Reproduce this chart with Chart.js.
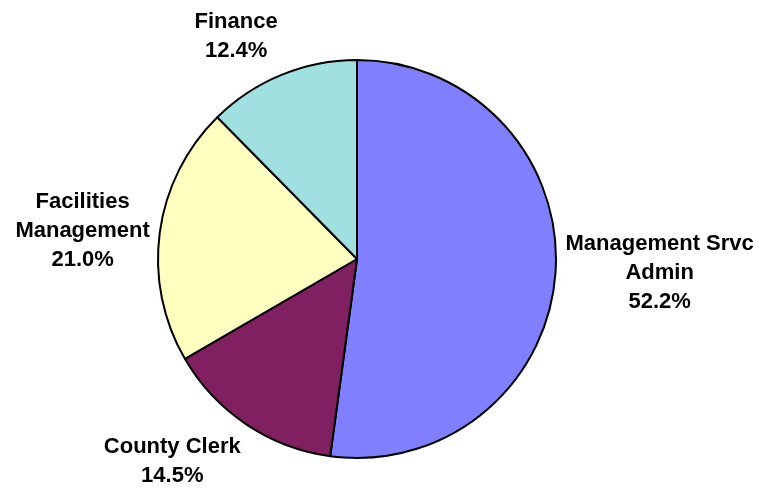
<!DOCTYPE html>
<html>
<head>
<meta charset="utf-8">
<title>Pie chart</title>
<script src="https://cdn.jsdelivr.net/npm/chart.js@4"></script>
<style>
	html, body { margin: 0; padding: 0; background: #ffffff; }
	#chart1 { display: block; }
</style>
</head>
<body>
<canvas id="chart1" width="759" height="489"></canvas>
<script>
'use strict'

// Chart data
const categories = [
	['Management Srvc', 'Admin'],
	['County Clerk'],
	['Facilities', 'Management'],
	['Finance']
];
const shares = [52.2, 14.5, 21.0, 12.4];
const sliceColors = ['#8080FF', '#802060', '#FFFFC0', '#A0E0E0'];

(() => {
	const labelFont = 'bold 22px "Liberation Sans", Arial, sans-serif';
	const lineHeight = 29;
	const labelGap = 10;

	// Helper to ease the vertical shift of a label block
	function ramp(v) {
		const a = Math.min(1, Math.max(0, (Math.abs(v) - 0.15) / 0.5));
		return Math.sign(v) * a;
	}

	/******************** Outside Labels Start ********************/
	const outsideLabels = {
		id: 'outsideLabels',
		afterDatasetsDraw(chart) {
			const ctx = chart.ctx;
			const meta = chart.getDatasetMeta(0);
			ctx.save();
			ctx.font = labelFont;
			ctx.fillStyle = '#000000';
			ctx.textAlign = 'center';
			ctx.textBaseline = 'middle';
			meta.data.forEach((arc, i) => {
				const p = arc.getProps(['x', 'y', 'startAngle', 'endAngle', 'outerRadius'], true);
				const mid = (p.startAngle + p.endAngle) / 2;
				const dx = Math.cos(mid);
				const dy = Math.sin(mid);
				const r = p.outerRadius + labelGap;
				const ax = p.x + dx * r;
				const ay = p.y + dy * r;

				const lines = categories[i].concat([shares[i].toFixed(1) + '%']);
				let w = 0;
				lines.forEach((line) => { w = Math.max(w, ctx.measureText(line).width); });
				const h = lines.length * lineHeight;

				const cx = ax + Math.sign(dx) * w / 2;
				const cy = ay + ramp(dy) * h / 2;
				lines.forEach((line, j) => {
					ctx.fillText(line, cx, cy + (j - (lines.length - 1) / 2) * lineHeight);
				});
			});
			ctx.restore();
		}
	};
	/******************** Outside Labels End ********************/

	/******************** Chart 1 Start ********************/
	const dataChart1 = {
		labels: categories.map((c) => c.join(' ')),
		datasets: [{
			data: shares,
			backgroundColor: sliceColors,
			borderColor: '#000000',
			borderWidth: 2,
			hoverOffset: 0
		}]
	};

	const configChart1 = {
		type: 'pie',
		data: dataChart1,
		options: {
			responsive: false,
			animation: false,
			layout: {
				padding: { top: 59, bottom: 30, left: 0, right: 45 }
			},
			plugins: {
				legend: { display: false },
				title: { display: false },
				tooltip: { enabled: false }
			}
		},
		plugins: [outsideLabels]
	};

	const myChart1 = new Chart(document.getElementById('chart1'), configChart1);
	/********************* Chart 1 End *********************/
})()
</script>
</body>
</html>
